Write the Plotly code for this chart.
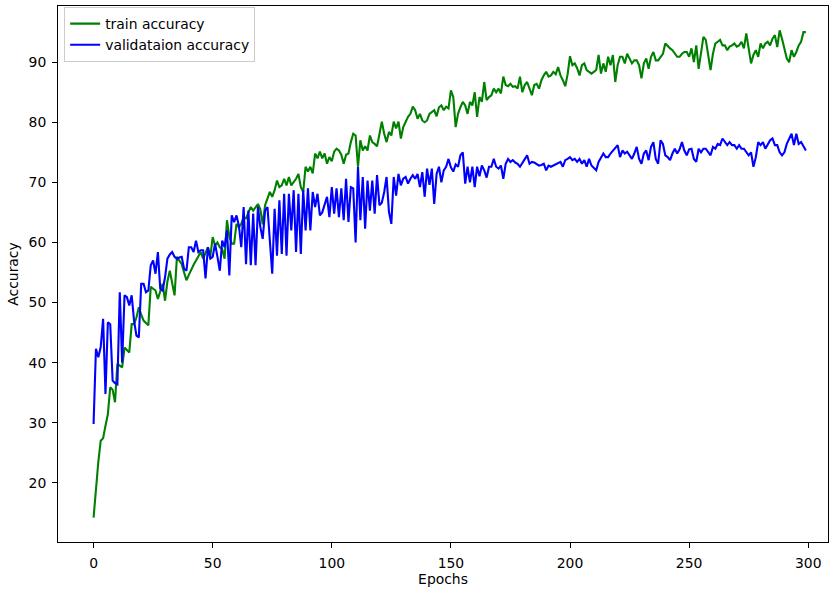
import plotly.graph_objects as go

epochs = list(range(300))

train_acc = [
    14.2, 19.0, 23.5, 27.0, 27.4, 29.5, 31.4, 35.9, 35.5, 33.4,
    39.8, 39.5, 39.2, 42.5, 42.0, 41.7, 46.4, 46.4, 47.5, 49.2,
    48.0, 47.0, 46.6, 46.2, 52.6, 52.3, 52.0, 50.6, 51.8, 53.1,
    50.3, 53.5, 55.3, 53.5, 51.2, 57.6, 57.0, 56.4, 55.0, 53.7,
    54.6, 55.6, 56.3, 57.0, 57.7, 58.4, 57.3, 58.2, 59.2, 57.6,
    60.9, 59.5, 60.0, 59.2, 58.9, 57.3, 63.7, 61.0, 59.8, 59.8,
    63.1, 62.5, 63.1, 64.2, 64.0, 65.0, 65.9, 65.3, 65.9, 66.4,
    65.5, 63.0, 66.2, 67.3, 68.4, 67.6, 68.7, 70.3, 69.2, 69.5,
    70.6, 69.5, 70.9, 69.5, 70.0, 70.6, 71.4, 69.2, 68.4, 72.6,
    71.8, 72.6, 71.5, 74.8, 74.0, 75.1, 74.0, 74.8, 73.1, 74.2,
    73.5, 75.1, 75.6, 75.3, 74.6, 73.1, 74.6, 74.8, 76.7, 78.1,
    77.8, 72.6, 77.0, 75.3, 76.0, 75.3, 77.8, 76.7, 76.4, 76.0,
    78.0, 80.1, 78.1, 76.7, 78.4, 77.8, 80.1, 79.0, 80.1, 77.3,
    79.2, 80.0, 80.9, 81.4, 82.6, 82.0, 80.6, 81.4, 80.3, 80.0,
    80.3, 81.4, 81.7, 82.0, 81.0, 82.5, 82.8, 82.0, 82.6, 82.3,
    85.3, 84.2, 79.2, 81.4, 82.5, 83.4, 82.8, 81.4, 83.4, 82.8,
    85.0, 80.9, 84.2, 83.4, 86.7, 83.7, 84.2, 84.5, 85.6, 85.0,
    85.6, 84.8, 87.6, 86.2, 86.0, 86.4, 85.9, 86.0, 85.6, 87.6,
    85.0, 86.2, 86.7, 85.6, 84.5, 86.2, 86.4, 85.6, 87.0, 87.8,
    88.4, 87.6, 87.8, 88.4, 88.0, 89.2, 87.8, 87.0, 86.0, 88.0,
    91.0, 89.5, 89.8, 89.0, 87.8, 89.5, 89.8, 88.7, 88.4, 88.1,
    88.4, 88.7, 91.2, 88.1, 89.8, 88.4, 90.9, 89.5, 91.2, 86.7,
    89.5, 90.9, 90.9, 89.8, 91.4, 90.6, 89.8, 90.3, 90.3, 89.5,
    87.3, 89.8, 90.6, 88.9, 90.9, 91.7, 90.3, 90.3, 90.9, 91.4,
    93.1, 92.6, 92.3, 92.0, 91.5, 90.9, 90.9, 91.4, 91.7, 91.7,
    90.9, 92.3, 90.0, 92.8, 88.9, 91.3, 94.2, 93.7, 90.9, 88.7,
    91.4, 93.1, 93.4, 93.7, 92.8, 92.8, 92.0, 92.6, 92.8, 93.1,
    92.6, 92.8, 93.4, 92.3, 94.8, 92.3, 89.8, 91.2, 92.0, 90.9,
    93.1, 92.3, 93.1, 93.4, 92.8, 93.9, 94.5, 92.5, 95.3, 93.9,
    92.3, 90.6, 90.0, 92.0, 90.9, 91.7, 92.8, 93.4, 95.0, 95.0,
]

val_acc = [
    29.8, 42.3, 40.9, 42.6, 47.3, 34.8, 46.7, 46.4, 37.0, 36.6,
    36.4, 51.7, 40.0, 51.2, 50.9, 49.5, 51.2, 47.0, 44.5, 44.2,
    53.1, 53.1, 51.7, 52.0, 56.2, 57.0, 54.8, 58.4, 52.3, 52.0,
    54.2, 57.3, 58.0, 58.4, 57.6, 57.3, 57.5, 57.6, 55.6, 55.3,
    59.2, 59.2, 58.4, 60.3, 58.4, 58.7, 58.7, 54.0, 59.2, 57.3,
    57.6, 59.8, 57.6, 55.3, 60.3, 59.2, 62.0, 54.5, 64.5, 63.4,
    64.5, 62.8, 59.2, 65.9, 56.4, 65.3, 56.2, 64.8, 56.2, 65.9,
    62.6, 60.6, 65.3, 65.9, 60.3, 54.8, 65.6, 57.8, 67.0, 58.1,
    68.1, 57.8, 68.1, 62.0, 68.7, 58.4, 68.1, 58.1, 68.7, 62.0,
    69.0, 62.0, 68.4, 65.9, 68.1, 64.5, 65.0, 66.4, 67.6, 64.2,
    69.2, 64.8, 69.0, 64.2, 69.0, 63.7, 70.6, 63.4, 69.2, 69.0,
    60.0, 72.6, 63.7, 70.9, 62.3, 70.3, 65.3, 70.3, 64.8, 71.2,
    66.2, 66.6, 68.4, 70.9, 65.1, 63.1, 70.9, 67.8, 71.4, 69.5,
    70.6, 70.9, 69.8, 70.6, 71.2, 70.6, 71.4, 69.2, 71.7, 67.6,
    72.3, 69.6, 72.3, 66.4, 71.4, 72.6, 70.0, 72.0, 72.6, 73.9,
    72.5, 71.8, 73.0, 72.6, 74.5, 75.0, 69.8, 72.6, 70.0, 72.6,
    69.2, 72.6, 71.0, 72.8, 72.0, 70.8, 72.6, 72.6, 73.9, 72.6,
    72.3, 72.8, 70.6, 73.1, 73.9, 73.4, 73.7, 73.3, 73.1, 72.6,
    73.2, 73.9, 74.5, 73.1, 73.4, 73.3, 73.1, 72.8, 72.9, 73.1,
    72.0, 72.8, 72.6, 72.8, 72.9, 73.1, 73.4, 72.6, 73.7, 73.9,
    74.2, 73.7, 73.9, 73.4, 73.9, 73.1, 73.7, 72.6, 73.9, 72.8,
    72.4, 72.0, 73.4, 74.2, 74.8, 74.2, 74.2, 74.8, 75.3, 75.9,
    76.2, 74.2, 75.3, 74.8, 75.1, 74.5, 73.9, 74.8, 75.9, 73.9,
    73.1, 74.8, 75.3, 73.7, 75.9, 76.7, 73.9, 73.1, 77.0, 76.4,
    74.5, 74.2, 73.7, 74.8, 75.6, 74.8, 75.5, 76.7, 75.3, 74.5,
    75.5, 75.6, 73.9, 73.4, 75.6, 75.0, 75.6, 75.6, 75.0, 74.5,
    75.9, 75.6, 76.4, 76.2, 77.3, 76.7, 76.2, 76.7, 76.2, 76.2,
    75.6, 76.2, 75.6, 75.6, 75.0, 74.5, 75.0, 72.6, 74.2, 76.7,
    76.2, 76.7, 75.6, 76.2, 77.0, 77.3, 76.2, 76.2, 75.0, 74.5,
    75.0, 76.4, 77.3, 78.1, 76.2, 78.1, 76.4, 76.7, 76.0, 75.3,
]

x_ticks = [0, 50, 100, 150, 200, 250, 300]
y_ticks = [20, 30, 40, 50, 60, 70, 80, 90]

FONT = "DejaVu Sans"
FS = 13.9

fig = go.Figure()
fig.add_trace(go.Scatter(x=epochs, y=train_acc, mode="lines", name="train accuracy",
                         line=dict(color="#008000", width=2.1), legendgroup="a"))
fig.add_trace(go.Scatter(x=epochs, y=val_acc, mode="lines", name="validataion accuracy",
                         line=dict(color="#0000ff", width=2.1), legendgroup="b"))

axis_common = dict(
    showgrid=False, zeroline=False, showline=True, linecolor="black", linewidth=1.1,
    mirror=True, ticks="outside", ticklen=4.9, tickwidth=1.1, tickcolor="black",
    tickfont=dict(family=FONT, size=FS, color="black"), automargin=False,
)

fig.update_layout(
    width=834, height=589,
    margin=dict(l=58, r=6, t=6, b=47, pad=0),
    paper_bgcolor="white", plot_bgcolor="white",
    font=dict(family=FONT, size=FS, color="black"),
    xaxis=dict(range=[-14.93, 308.3], tickvals=x_ticks, ticklabelstandoff=3,
               title=dict(text="Epochs", font=dict(family=FONT, size=FS), standoff=2),
               **axis_common),
    yaxis=dict(range=[10.15, 99.35], tickvals=y_ticks, ticklabelstandoff=3,
               title=dict(text="Accuracy", font=dict(family=FONT, size=FS), standoff=6),
               **axis_common),
    showlegend=True,
    legend=dict(x=0.008, y=0.998, xanchor="left", yanchor="top",
                bgcolor="rgba(255,255,255,0.8)", bordercolor="#cccccc", borderwidth=1,
                font=dict(family=FONT, size=FS, color="black"),
                tracegroupgap=2, traceorder="normal"),
)

fig.write_html("out.html", config={"displayModeBar": False},
               post_script="document.body.style.margin='0';document.body.style.padding='0';")
